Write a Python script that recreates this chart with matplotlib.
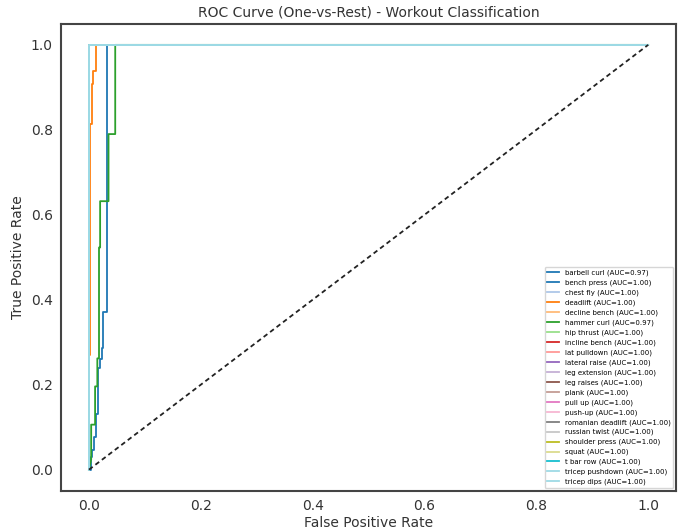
import matplotlib.pyplot as plt
import numpy as np

classes = ['barbell curl', 'bench press', 'chest fly', 'deadlift', 'decline bench',
           'hammer curl', 'hip thrust', 'incline bench', 'lat pulldown', 'lateral raise',
           'leg extension', 'leg raises', 'plank', 'pull up', 'push-up',
           'romanian deadlift', 'russian twist', 'shoulder press', 'squat', 't bar row',
           'tricep pushdown', 'tricep dips']
aucs = [0.97, 1.00, 1.00, 1.00, 1.00, 0.97, 1.00, 1.00, 1.00, 1.00, 1.00,
        1.00, 1.00, 1.00, 1.00, 1.00, 1.00, 1.00, 1.00, 1.00, 1.00, 1.00]

# roc points (classes not listed here are perfect: (0,0)->(0,1)->(1,1))
fpr_barbell = [0, 0.003, 0.003, 0.006, 0.006, 0.009, 0.009, 0.013, 0.013, 0.017, 0.017,
               0.020, 0.020, 0.023, 0.023, 0.026, 0.026, 0.032, 0.032, 1]
tpr_barbell = [0, 0, 0.03, 0.03, 0.047, 0.047, 0.078, 0.078, 0.13, 0.13, 0.24,
               0.24, 0.26, 0.26, 0.287, 0.287, 0.37, 0.37, 1, 1]
fpr_deadlift = [0, 0, 0.002, 0.002, 0.005, 0.005, 0.008, 0.008, 0.012, 0.012, 1]
tpr_deadlift = [0, 0.27, 0.27, 0.813, 0.813, 0.907, 0.907, 0.938, 0.938, 1, 1]
fpr_hammer = [0, 0.004, 0.004, 0.011, 0.011, 0.015, 0.015, 0.018, 0.018, 0.020, 0.020,
              0.035, 0.035, 0.047, 0.047, 1]
tpr_hammer = [0, 0.024, 0.106, 0.106, 0.196, 0.196, 0.262, 0.262, 0.523, 0.523, 0.632,
              0.632, 0.79, 0.79, 1, 1]

curves = {
    'barbell curl': (fpr_barbell, tpr_barbell),
    'deadlift': (fpr_deadlift, tpr_deadlift),
    'hammer curl': (fpr_hammer, tpr_hammer),
}

colors = plt.cm.tab20(np.linspace(0, 1, len(classes)))

fig = plt.figure(figsize=(6.79, 5.31), dpi=100)
ax = fig.add_axes([0.0898, 0.0755, 0.906, 0.88])

for i, name in enumerate(classes):
    fpr, tpr = curves.get(name, ([0, 0, 1], [0, 1, 1]))
    ax.plot(fpr, tpr, color=colors[i], lw=1.3, label=f'{name} (AUC={aucs[i]:.2f})')
ax.plot([0, 1], [0, 1], '--', color='#222222', lw=1.3, dashes=(2.6, 1.9))

tc = '#333333'
ax.set_xlabel('False Positive Rate', fontsize=10, color=tc, labelpad=2)
ax.set_ylabel('True Positive Rate', fontsize=10, color=tc, labelpad=4)
ax.set_title('ROC Curve (One-vs-Rest) - Workout Classification', fontsize=10, color=tc, pad=5)
ax.tick_params(length=0, labelsize=10, labelcolor=tc, pad=6)
for s in ax.spines.values():
    s.set_color('#444444')
    s.set_linewidth(1.5)
ax.legend(loc='lower right', fontsize=5.0, labelspacing=0.5, handlelength=1.7,
          borderaxespad=0.4)
plt.savefig('out.png', dpi=100)
